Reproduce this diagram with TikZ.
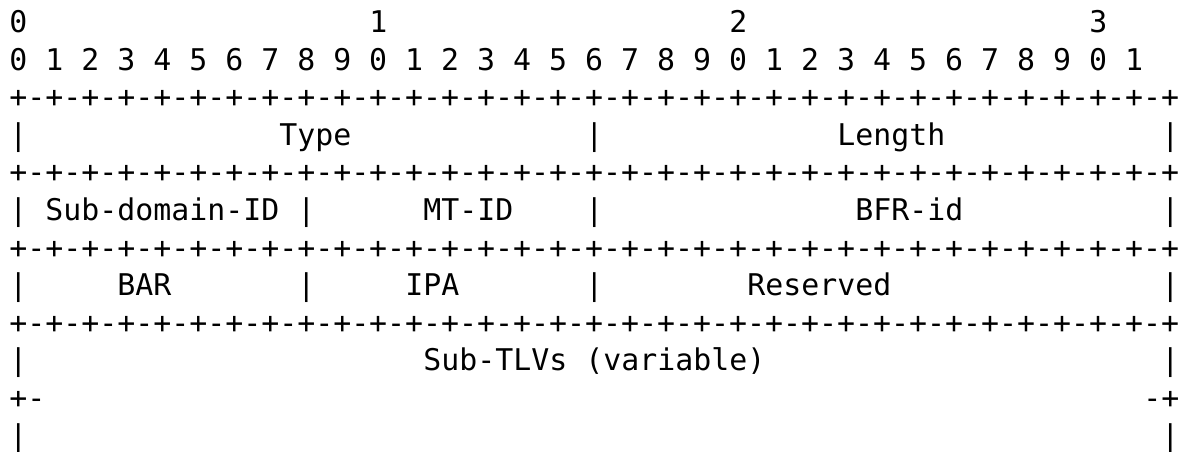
\documentclass[tikz,border=0pt]{standalone}
\usepackage{fontspec}
\setmonofont{DejaVu Sans Mono}
\newcommand{\bitfont}{\fontsize{17.01pt}{20pt}\selectfont\ttfamily}
\newcommand{\sepline}{+-+-+-+-+-+-+-+-+-+-+-+-+-+-+-+-+-+-+-+-+-+-+-+-+-+-+-+-+-+-+-+-+}
\tikzset{bits/.style={font=\bitfont, inner sep=0pt, anchor=base west}}
\begin{document}
\begin{tikzpicture}
                            \useasboundingbox (0,0) rectangle (23.760000,-9.020000);
                            {
                            
                            % Bit ruler, tens
                            \draw (0.180000,-0.650000) node (tens0) [bits] {0};%
                            \draw (7.380000,-0.650000) node (tens1) [bits] {1};%
                            \draw (14.580000,-0.650000) node (tens2) [bits] {2};%
                            \draw (21.780000,-0.650000) node (tens3) [bits] {3};%
                            
                            % Bit ruler, units
                            \draw (0.180000,-1.402000) node (units) [bits] {0 1 2 3 4 5 6 7 8 9 0 1 2 3 4 5 6 7 8 9 0 1 2 3 4 5 6 7 8 9 0 1};%
                            
                            % Border above word 1
                            \draw (0.180000,-2.154000) node (sepA) [bits] {\sepline};%
                            
                            % Word 1: Type, Length
                            \draw (0.180000,-2.906000) node (barA0) [bits] {|};%
                            \draw (5.580000,-2.906000) node (type) [bits] {Type};%
                            \draw (11.700000,-2.906000) node (barA32) [bits] {|};%
                            \draw (16.740000,-2.906000) node (length) [bits] {Length};%
                            \draw (23.220000,-2.906000) node (barA64) [bits] {|};%
                            
                            % Border above word 2
                            \draw (0.180000,-3.658000) node (sepB) [bits] {\sepline};%
                            
                            % Word 2: Sub-domain-ID, MT-ID, BFR-id
                            \draw (0.180000,-4.410000) node (barB0) [bits] {|};%
                            \draw (0.900000,-4.410000) node (subdomain) [bits] {Sub-domain-ID};%
                            \draw (5.940000,-4.410000) node (barB16) [bits] {|};%
                            \draw (8.460000,-4.410000) node (mtid) [bits] {MT-ID};%
                            \draw (11.700000,-4.410000) node (barB32) [bits] {|};%
                            \draw (17.100000,-4.410000) node (bfrid) [bits] {BFR-id};%
                            \draw (23.220000,-4.410000) node (barB64) [bits] {|};%
                            
                            % Border above word 3
                            \draw (0.180000,-5.162000) node (sepC) [bits] {\sepline};%
                            
                            % Word 3: BAR, IPA, Reserved
                            \draw (0.180000,-5.914000) node (barC0) [bits] {|};%
                            \draw (2.340000,-5.914000) node (bar) [bits] {BAR};%
                            \draw (5.940000,-5.914000) node (barC16) [bits] {|};%
                            \draw (8.100000,-5.914000) node (ipa) [bits] {IPA};%
                            \draw (11.700000,-5.914000) node (barC32) [bits] {|};%
                            \draw (14.940000,-5.914000) node (reserved) [bits] {Reserved};%
                            \draw (23.220000,-5.914000) node (barC64) [bits] {|};%
                            
                            % Border above sub-TLVs
                            \draw (0.180000,-6.666000) node (sepD) [bits] {\sepline};%
                            
                            % Sub-TLVs, open at the bottom
                            \draw (0.180000,-7.418000) node (barD0) [bits] {|};%
                            \draw (8.460000,-7.418000) node (subtlvs) [bits] {Sub-TLVs (variable)};%
                            \draw (23.220000,-7.418000) node (barD64) [bits] {|};%
                            \draw (0.180000,-8.170000) node (openL) [bits] {+-};%
                            \draw (22.860000,-8.170000) node (openR) [bits] {-+};%
                            \draw (0.180000,-8.922000) node (barE0) [bits] {|};%
                            \draw (23.220000,-8.922000) node (barE64) [bits] {|};%
                            }
                        \end{tikzpicture}
\end{document}
